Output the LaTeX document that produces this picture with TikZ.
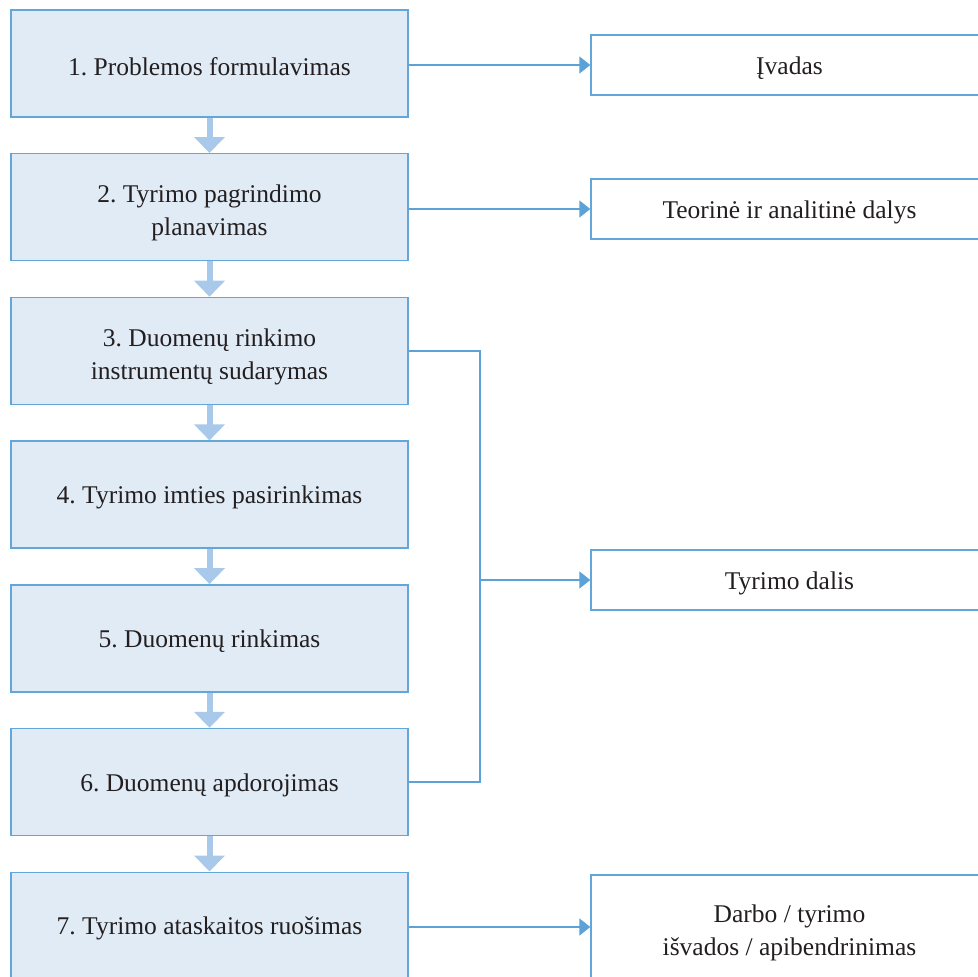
\documentclass[tikz,border=0pt]{standalone}
\usepackage{fontspec}
\setmainfont{Liberation Serif}
\frenchspacing
\usetikzlibrary{arrows.meta}
\definecolor{boxfill}{HTML}{E1EBF6}
\definecolor{boxline}{HTML}{62A6DA}
\definecolor{downarrow}{HTML}{A8C9E9}
\definecolor{sidearrow}{HTML}{5BA2D8}
\definecolor{txt}{HTML}{231F20}
\newcommand{\onel}[1]{\raisebox{-3pt}[\height][\depth]{#1}}
\newcommand{\twol}[2]{\raisebox{-5.5pt}[\height][\depth]{\begin{tabular}{@{}c@{}}#1\\#2\end{tabular}}}
\tikzset{
  stepbox/.style={draw=boxline, line width=1.4pt, fill=boxfill, minimum width=397pt, minimum height=107pt, inner sep=0pt, align=center, text=txt, font=\fontsize{25.5}{33}\selectfont\frenchspacing},
  outbox/.style={draw=boxline, line width=1.4pt, fill=white, minimum width=397pt, inner sep=0pt, align=center, text=txt, font=\fontsize{25.5}{33}\selectfont\frenchspacing},
  downarr/.style={draw=downarrow, line width=6pt, -{Triangle[width=30pt,length=16pt]}},
  sidearr/.style={draw=sidearrow, line width=1.6pt, -{Triangle[width=17pt,length=11pt]}},
  elbow/.style={draw=sidearrow, line width=1.6pt}
}
\begin{document}
\begin{tikzpicture}[x=1pt,y=-1pt]
\useasboundingbox (0,0) rectangle (978,977);
\clip (0,0) rectangle (978,977);
\node[stepbox] (b1) at (209.5,63.5) {\onel{1. Problemos formulavimas}};
\node[stepbox] (b2) at (209.5,207.2) {\twol{2. Tyrimo pagrindimo}{planavimas}};
\node[stepbox] (b3) at (209.5,350.9) {\twol{3. Duomenų rinkimo}{instrumentų sudarymas}};
\node[stepbox] (b4) at (209.5,494.6) {\onel{4. Tyrimo imties pasirinkimas}};
\node[stepbox] (b5) at (209.5,638.3) {\onel{5. Duomenų rinkimas}};
\node[stepbox] (b6) at (209.5,782.0) {\onel{6. Duomenų apdorojimas}};
\node[stepbox] (b7) at (209.5,925.7) {\onel{7. Tyrimo ataskaitos ruošimas}};

\node[outbox, minimum height=60pt] (r1) at (789.5,65) {\onel{Įvadas}};
\node[outbox, minimum height=60pt] (r2) at (789.5,209) {\onel{Teorinė ir analitinė dalys}};
\node[outbox, minimum height=60pt] (r3) at (789.5,580) {\onel{Tyrimo dalis}};
\node[outbox, minimum height=104pt] (r4) at (789.5,927) {\twol{Darbo / tyrimo}{išvados / apibendrinimas}};

\draw[downarr] (b1.south) -- (b2.north);
\draw[downarr] (b2.south) -- (b3.north);
\draw[downarr] (b3.south) -- (b4.north);
\draw[downarr] (b4.south) -- (b5.north);
\draw[downarr] (b5.south) -- (b6.north);
\draw[downarr] (b6.south) -- (b7.north);

\draw[sidearr] (b1.east |- r1.west) -- (r1.west);
\draw[sidearr] (b2.east |- r2.west) -- (r2.west);
\coordinate (j) at (480,580);
\draw[elbow] (b3.east) -| (j |- b6.east) -- (b6.east);
\draw[sidearr] (j) -- (r3.west);
\draw[sidearr] (b7.east |- r4.west) -- (r4.west);
\end{tikzpicture}
\end{document}
